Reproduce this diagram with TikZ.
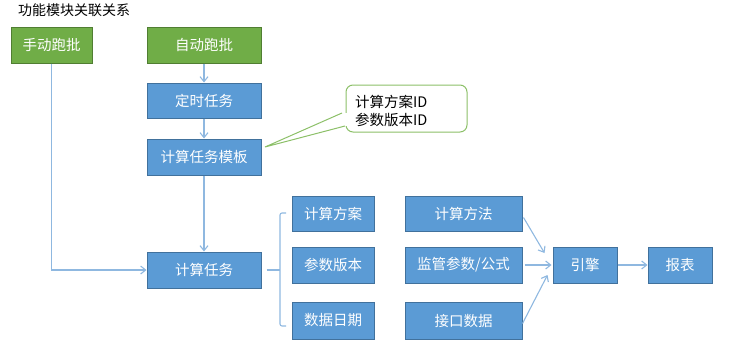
\documentclass[tikz,border=0pt]{standalone}
\usepackage{fontspec}
\setmainfont{Noto Sans CJK SC}
\usetikzlibrary{arrows.meta,calc}
\definecolor{bfill}{HTML}{5B9BD5}
\definecolor{bline}{HTML}{41719C}
\definecolor{gfill}{HTML}{70AD47}
\definecolor{gline}{HTML}{507E32}
\definecolor{conn}{HTML}{8FB8E0}
\definecolor{callg}{HTML}{8CC068}
\tikzset{
  x=1pt,y=1pt,
  bbox/.style={draw=bline,fill=bfill,line width=1pt,text=white,inner sep=0pt,font=\fontsize{14.5}{16}\selectfont},
  gbox/.style={draw=gline,fill=gfill,line width=1pt,text=white,inner sep=0pt,font=\fontsize{14.5}{16}\selectfont},
  conline/.style={draw=conn,line width=1.1pt},
  arr/.style={conline,-{Straight Barb[length=5pt,width=8pt]}},
}
\newcommand{\boxat}[7]{% style,name,x1,y1,x2,y2,text
  \node[#1,minimum width=#5pt-#3pt,minimum height=#6pt-#4pt] (#2) at ({(#3+#5)/2},{-(#4+#6)/2}) {#7};}
\begin{document}
\begin{tikzpicture}
\useasboundingbox (0,0) rectangle (733,-359);
\node[anchor=west,font=\fontsize{14}{15}\selectfont,inner sep=0pt] (title) at (18,-10) {功能模块关联关系};
\boxat{gbox}{manual}{11}{27}{92}{63}{手动跑批}
\boxat{gbox}{auto}{147}{27}{261}{63}{自动跑批}
\boxat{bbox}{timer}{147}{83}{261}{118}{定时任务}
\boxat{bbox}{tmpl}{147}{139}{261}{175}{计算任务模板}
\boxat{bbox}{task}{147}{252}{261}{288}{计算任务}
\boxat{bbox}{plan}{292}{196}{374}{231}{计算方案}
\boxat{bbox}{ver}{292}{247}{374}{283}{参数版本}
\boxat{bbox}{date}{292}{302}{374}{339}{数据日期}
\boxat{bbox}{method}{405}{196}{522}{231}{计算方法}
\boxat{bbox}{param}{405}{247}{522}{283}{监管参数/公式}
\boxat{bbox}{iface}{405}{302}{522}{339}{接口数据}
\boxat{bbox}{engine}{553}{247}{617}{283}{引擎}
\boxat{bbox}{report}{648}{247}{712}{283}{报表}
% callout
\node[draw=callg,fill=white,line width=1pt,rounded corners=7pt,minimum width=121pt,minimum height=47pt] (note) at (406.5,-108.5) {};
\node[anchor=west,align=left,inner sep=0pt,font=\fontsize{14.5}{18}\selectfont] (notetext) at (355,-111) {计算方案ID\\参数版本ID};
\coordinate (tip) at (265,-147);
\fill[white] (tip) -- (342,-113) -- (350,-113) -- (350,-126) -- (345,-126) -- cycle;
\draw[callg,line width=1pt] (342,-113) -- (tip) -- (345,-126);
% connectors
\draw[arr] (auto) -- (timer);
\draw[arr] (timer) -- (tmpl);
\draw[arr] (tmpl) -- (task);
\coordinate (mcorner) at (manual.south |- task.west);
\draw[arr] (manual.south) -- (mcorner) -- (task.west);
% brace
\coordinate (bmid) at (280,-270);
\draw[conline] (task.east) ++(5,0) -- (bmid);
\draw[conline,rounded corners=2pt] (286,-213) -- (280,-213) -- (280,-326) -- (286,-326);
% to engine
\draw[arr] ($(method.east)+(1,-4)$) -- ($(engine.west)+(-8,12)$);
\draw[arr] ($(param.east)+(2,0)$) -- ($(engine.west)+(-1,0)$);
\draw[arr] ($(iface.east)+(0,-3)$) -- ($(engine.west)+(-5,-10)$);
\draw[arr] (engine) -- (report);
\end{tikzpicture}
\end{document}
